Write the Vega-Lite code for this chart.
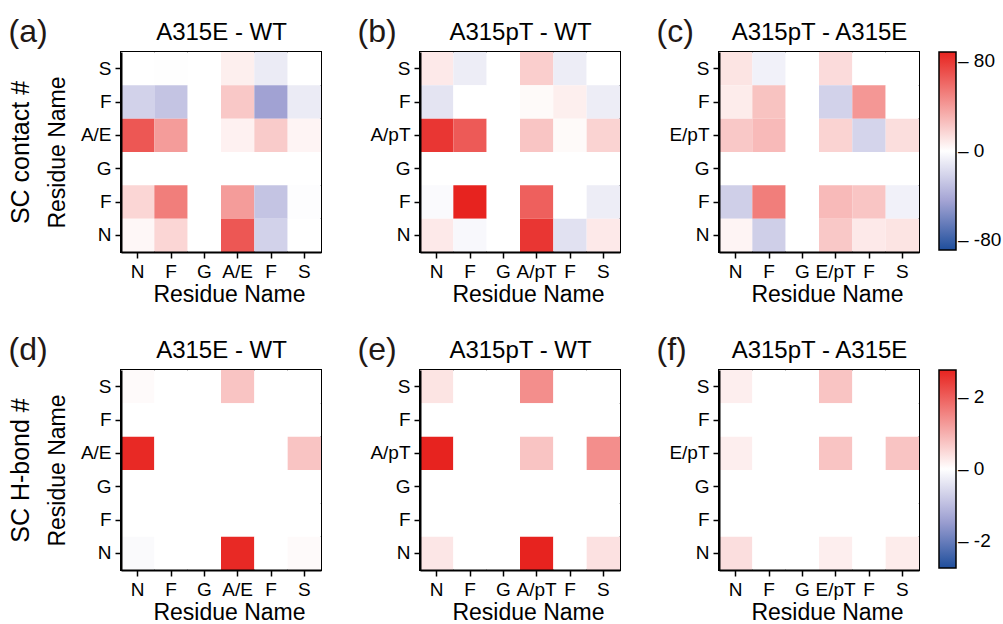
{
"$schema":"https://vega.github.io/schema/vega-lite/v6.json",
"background":"white",
"padding":{"left":7,"top":14,"right":5,"bottom":0},
"config":{
 "font":"Liberation Sans",
 "view":{"stroke":"#000","strokeWidth":2},
 "axis":{"domainColor":"#000","domainWidth":2,"tickColor":"#000","tickWidth":1.5,"tickSize":6,"labelColor":"#000","labelFontSize":19,"labelPadding":4,"titleColor":"#000","titleFontSize":23,"titleFontWeight":"normal","grid":false},
 "legend":{"gradientLength":198,"gradientThickness":17,"gradientStrokeColor":"#000","gradientStrokeWidth":1.5,"labelFontSize":19,"labelColor":"#000","offset":20,"padding":0,"labelBaseline":"middle"}
},
"datasets":{
 "a":[
  {"r":1,"c":1,"v":0},{"r":1,"c":2,"v":-0.5},{"r":1,"c":3,"v":0},{"r":1,"c":4,"v":6},{"r":1,"c":5,"v":-9},{"r":1,"c":6,"v":0},
  {"r":2,"c":1,"v":-20},{"r":2,"c":2,"v":-26},{"r":2,"c":3,"v":0},{"r":2,"c":4,"v":20},{"r":2,"c":5,"v":-41},{"r":2,"c":6,"v":-9},
  {"r":3,"c":1,"v":61},{"r":3,"c":2,"v":36},{"r":3,"c":3,"v":0},{"r":3,"c":4,"v":5},{"r":3,"c":5,"v":19},{"r":3,"c":6,"v":4},
  {"r":4,"c":1,"v":0},{"r":4,"c":2,"v":0},{"r":4,"c":3,"v":0},{"r":4,"c":4,"v":0},{"r":4,"c":5,"v":0},{"r":4,"c":6,"v":0},
  {"r":5,"c":1,"v":15},{"r":5,"c":2,"v":47},{"r":5,"c":3,"v":0},{"r":5,"c":4,"v":36},{"r":5,"c":5,"v":-26},{"r":5,"c":6,"v":-1},
  {"r":6,"c":1,"v":3},{"r":6,"c":2,"v":15},{"r":6,"c":3,"v":0},{"r":6,"c":4,"v":61},{"r":6,"c":5,"v":-20},{"r":6,"c":6,"v":0}
 ],
 "b":[
  {"r":1,"c":1,"v":8},{"r":1,"c":2,"v":-8},{"r":1,"c":3,"v":0},{"r":1,"c":4,"v":18},{"r":1,"c":5,"v":-8},{"r":1,"c":6,"v":0},
  {"r":2,"c":1,"v":-12},{"r":2,"c":2,"v":0},{"r":2,"c":3,"v":0},{"r":2,"c":4,"v":2},{"r":2,"c":5,"v":6},{"r":2,"c":6,"v":-8},
  {"r":3,"c":1,"v":73},{"r":3,"c":2,"v":60},{"r":3,"c":3,"v":0},{"r":3,"c":4,"v":21},{"r":3,"c":5,"v":2},{"r":3,"c":6,"v":16},
  {"r":4,"c":1,"v":0},{"r":4,"c":2,"v":0},{"r":4,"c":3,"v":0},{"r":4,"c":4,"v":0},{"r":4,"c":5,"v":0},{"r":4,"c":6,"v":0},
  {"r":5,"c":1,"v":-2},{"r":5,"c":2,"v":80},{"r":5,"c":3,"v":0},{"r":5,"c":4,"v":58},{"r":5,"c":5,"v":0},{"r":5,"c":6,"v":-8},
  {"r":6,"c":1,"v":8},{"r":6,"c":2,"v":-3},{"r":6,"c":3,"v":0},{"r":6,"c":4,"v":73},{"r":6,"c":5,"v":-13},{"r":6,"c":6,"v":8}
 ],
 "c":[
  {"r":1,"c":1,"v":10},{"r":1,"c":2,"v":-6},{"r":1,"c":3,"v":0},{"r":1,"c":4,"v":13},{"r":1,"c":5,"v":0},{"r":1,"c":6,"v":0},
  {"r":2,"c":1,"v":7},{"r":2,"c":2,"v":22},{"r":2,"c":3,"v":0},{"r":2,"c":4,"v":-20},{"r":2,"c":5,"v":38},{"r":2,"c":6,"v":0},
  {"r":3,"c":1,"v":20},{"r":3,"c":2,"v":25},{"r":3,"c":3,"v":0},{"r":3,"c":4,"v":16},{"r":3,"c":5,"v":-19},{"r":3,"c":6,"v":12},
  {"r":4,"c":1,"v":0},{"r":4,"c":2,"v":0},{"r":4,"c":3,"v":0},{"r":4,"c":4,"v":0},{"r":4,"c":5,"v":0},{"r":4,"c":6,"v":0},
  {"r":5,"c":1,"v":-21},{"r":5,"c":2,"v":47},{"r":5,"c":3,"v":0},{"r":5,"c":4,"v":25},{"r":5,"c":5,"v":21},{"r":5,"c":6,"v":-6},
  {"r":6,"c":1,"v":4},{"r":6,"c":2,"v":-21},{"r":6,"c":3,"v":0},{"r":6,"c":4,"v":20},{"r":6,"c":5,"v":8},{"r":6,"c":6,"v":10}
 ],
 "d":[
  {"r":1,"c":1,"v":0.06},{"r":1,"c":2,"v":0},{"r":1,"c":3,"v":0},{"r":1,"c":4,"v":0.74},{"r":1,"c":5,"v":0},{"r":1,"c":6,"v":0},
  {"r":2,"c":1,"v":0},{"r":2,"c":2,"v":0},{"r":2,"c":3,"v":0},{"r":2,"c":4,"v":0},{"r":2,"c":5,"v":0},{"r":2,"c":6,"v":0},
  {"r":3,"c":1,"v":2.68},{"r":3,"c":2,"v":0},{"r":3,"c":3,"v":0},{"r":3,"c":4,"v":0},{"r":3,"c":5,"v":0},{"r":3,"c":6,"v":0.74},
  {"r":4,"c":1,"v":0},{"r":4,"c":2,"v":0},{"r":4,"c":3,"v":0},{"r":4,"c":4,"v":0},{"r":4,"c":5,"v":0},{"r":4,"c":6,"v":0},
  {"r":5,"c":1,"v":0},{"r":5,"c":2,"v":0},{"r":5,"c":3,"v":0},{"r":5,"c":4,"v":0},{"r":5,"c":5,"v":0},{"r":5,"c":6,"v":0},
  {"r":6,"c":1,"v":-0.08},{"r":6,"c":2,"v":0},{"r":6,"c":3,"v":0},{"r":6,"c":4,"v":2.68},{"r":6,"c":5,"v":0},{"r":6,"c":6,"v":0.06}
 ],
 "e":[
  {"r":1,"c":1,"v":0.34},{"r":1,"c":2,"v":0},{"r":1,"c":3,"v":0},{"r":1,"c":4,"v":1.41},{"r":1,"c":5,"v":0},{"r":1,"c":6,"v":0},
  {"r":2,"c":1,"v":0},{"r":2,"c":2,"v":0},{"r":2,"c":3,"v":0},{"r":2,"c":4,"v":0},{"r":2,"c":5,"v":0},{"r":2,"c":6,"v":0},
  {"r":3,"c":1,"v":2.75},{"r":3,"c":2,"v":0},{"r":3,"c":3,"v":0},{"r":3,"c":4,"v":0.74},{"r":3,"c":5,"v":0},{"r":3,"c":6,"v":1.41},
  {"r":4,"c":1,"v":0},{"r":4,"c":2,"v":0},{"r":4,"c":3,"v":0},{"r":4,"c":4,"v":0},{"r":4,"c":5,"v":0},{"r":4,"c":6,"v":0},
  {"r":5,"c":1,"v":0},{"r":5,"c":2,"v":0},{"r":5,"c":3,"v":0},{"r":5,"c":4,"v":0},{"r":5,"c":5,"v":0},{"r":5,"c":6,"v":0},
  {"r":6,"c":1,"v":0.31},{"r":6,"c":2,"v":0},{"r":6,"c":3,"v":0},{"r":6,"c":4,"v":2.75},{"r":6,"c":5,"v":0},{"r":6,"c":6,"v":0.37}
 ],
 "f":[
  {"r":1,"c":1,"v":0.21},{"r":1,"c":2,"v":0},{"r":1,"c":3,"v":0},{"r":1,"c":4,"v":0.74},{"r":1,"c":5,"v":0},{"r":1,"c":6,"v":0},
  {"r":2,"c":1,"v":0},{"r":2,"c":2,"v":0},{"r":2,"c":3,"v":0},{"r":2,"c":4,"v":0},{"r":2,"c":5,"v":0},{"r":2,"c":6,"v":0},
  {"r":3,"c":1,"v":0.21},{"r":3,"c":2,"v":0},{"r":3,"c":3,"v":0},{"r":3,"c":4,"v":0.74},{"r":3,"c":5,"v":0},{"r":3,"c":6,"v":0.74},
  {"r":4,"c":1,"v":0},{"r":4,"c":2,"v":0},{"r":4,"c":3,"v":0},{"r":4,"c":4,"v":0},{"r":4,"c":5,"v":0},{"r":4,"c":6,"v":0},
  {"r":5,"c":1,"v":0},{"r":5,"c":2,"v":0},{"r":5,"c":3,"v":0},{"r":5,"c":4,"v":0},{"r":5,"c":5,"v":0},{"r":5,"c":6,"v":0},
  {"r":6,"c":1,"v":0.41},{"r":6,"c":2,"v":0},{"r":6,"c":3,"v":0},{"r":6,"c":4,"v":0.21},{"r":6,"c":5,"v":0},{"r":6,"c":6,"v":0.24}
 ]
},
"vconcat":[
 {"hconcat":[
  {"data":{"name":"a"},"width":200,"height":200,
   "layer":[
    {"mark":"rect","encoding":{
     "x":{"field":"c","type":"ordinal","scale":{"domain":[1,2,3,4,5,6]},"axis":{"orient":"bottom","labelExpr":"['N','F','G','A/E','F','S'][datum.value-1]","labelAngle":0,"labelOverlap":false,"title":"Residue Name","titlePadding":2,"titleX":108}},
     "y":{"field":"r","type":"ordinal","scale":{"domain":[1,2,3,4,5,6]},"axis":{"labelExpr":"['S','F','A/E','G','F','N'][datum.value-1]","labelOverlap":false,"title":"Residue Name","titlePadding":11}},
     "color":{"field":"v","type":"quantitative","scale":{"domain":[-80,-40,0,80],"range":["#1f4e9c","#a4a4d4","#ffffff","#e7231f"],"interpolate":"rgb"},"legend":null}}},
    {"mark":{"type":"rect","opacity":0},"encoding":{
     "x":{"field":"c","type":"ordinal","axis":{"orient":"top","labels":false,"ticks":false,"domain":false,"title":"A315E - WT","titleFontSize":24,"titlePadding":8}},
     "y":{"field":"r","type":"ordinal","axis":{"orient":"left","labels":false,"ticks":false,"domain":false,"title":"SC contact #","titleFontSize":25,"titlePadding":88}}}},
    {"mark":{"type":"rect","opacity":0},"encoding":{
     "x":{"field":"c","type":"ordinal","axis":{"orient":"top","labels":false,"ticks":false,"domain":false,"title":"(a)","titleFontSize":32,"titleColor":"#231815","titleX":-113,"titleAlign":"left","titleBaseline":"alphabetic","titlePadding":11}},
     "y":{"field":"r","type":"ordinal","axis":null}}}
   ],
   "resolve":{"axis":{"x":"independent","y":"independent"}}},
  {"data":{"name":"b"},"width":200,"height":200,
   "layer":[
    {"mark":"rect","encoding":{
     "x":{"field":"c","type":"ordinal","scale":{"domain":[1,2,3,4,5,6]},"axis":{"orient":"bottom","labelExpr":"['N','F','G','A/pT','F','S'][datum.value-1]","labelAngle":0,"labelOverlap":false,"title":"Residue Name","titlePadding":2,"titleX":108}},
     "y":{"field":"r","type":"ordinal","scale":{"domain":[1,2,3,4,5,6]},"axis":{"labelExpr":"['S','F','A/pT','G','F','N'][datum.value-1]","labelOverlap":false,"title":null}},
     "color":{"field":"v","type":"quantitative","scale":{"domain":[-80,-40,0,80],"range":["#1f4e9c","#a4a4d4","#ffffff","#e7231f"],"interpolate":"rgb"},"legend":null}}},
    {"mark":{"type":"rect","opacity":0},"encoding":{
     "x":{"field":"c","type":"ordinal","axis":{"orient":"top","labels":false,"ticks":false,"domain":false,"title":"A315pT - WT","titleFontSize":24,"titlePadding":8}},
     "y":{"field":"r","type":"ordinal","axis":null}}},
    {"mark":{"type":"rect","opacity":0},"encoding":{
     "x":{"field":"c","type":"ordinal","axis":{"orient":"top","labels":false,"ticks":false,"domain":false,"title":"(b)","titleFontSize":32,"titleColor":"#231815","titleX":-63,"titleAlign":"left","titleBaseline":"alphabetic","titlePadding":11}},
     "y":{"field":"r","type":"ordinal","axis":null}}}
   ],
   "resolve":{"axis":{"x":"independent","y":"independent"}}},
  {"data":{"name":"c"},"width":200,"height":200,
   "layer":[
    {"mark":"rect","encoding":{
     "x":{"field":"c","type":"ordinal","scale":{"domain":[1,2,3,4,5,6]},"axis":{"orient":"bottom","labelExpr":"['N','F','G','E/pT','F','S'][datum.value-1]","labelAngle":0,"labelOverlap":false,"title":"Residue Name","titlePadding":2,"titleX":108}},
     "y":{"field":"r","type":"ordinal","scale":{"domain":[1,2,3,4,5,6]},"axis":{"labelExpr":"['S','F','E/pT','G','F','N'][datum.value-1]","labelOverlap":false,"title":null}},
     "color":{"field":"v","type":"quantitative","scale":{"domain":[-80,-40,0,80],"range":["#1f4e9c","#a4a4d4","#ffffff","#e7231f"],"interpolate":"rgb"},"legend":{"title":null,"values":[80,0,-80],"labelExpr":"'\u2013\u00a0' + datum.value"}}}},
    {"mark":{"type":"rect","opacity":0},"encoding":{
     "x":{"field":"c","type":"ordinal","axis":{"orient":"top","labels":false,"ticks":false,"domain":false,"title":"A315pT - A315E","titleFontSize":24,"titlePadding":8}},
     "y":{"field":"r","type":"ordinal","axis":null}}},
    {"mark":{"type":"rect","opacity":0},"encoding":{
     "x":{"field":"c","type":"ordinal","axis":{"orient":"top","labels":false,"ticks":false,"domain":false,"title":"(c)","titleFontSize":32,"titleColor":"#231815","titleX":-63,"titleAlign":"left","titleBaseline":"alphabetic","titlePadding":11}},
     "y":{"field":"r","type":"ordinal","axis":null}}}
   ],
   "resolve":{"axis":{"x":"independent","y":"independent"}}}
 ],"spacing":33,"resolve":{"scale":{"color":"independent"}}},
 {"hconcat":[
  {"data":{"name":"d"},"width":200,"height":200,
   "layer":[
    {"mark":"rect","encoding":{
     "x":{"field":"c","type":"ordinal","scale":{"domain":[1,2,3,4,5,6]},"axis":{"orient":"bottom","labelExpr":"['N','F','G','A/E','F','S'][datum.value-1]","labelAngle":0,"labelOverlap":false,"title":"Residue Name","titlePadding":2,"titleX":108}},
     "y":{"field":"r","type":"ordinal","scale":{"domain":[1,2,3,4,5,6]},"axis":{"labelExpr":"['S','F','A/E','G','F','N'][datum.value-1]","labelOverlap":false,"title":"Residue Name","titlePadding":11}},
     "color":{"field":"v","type":"quantitative","scale":{"domain":[-2.75,-1.375,0,2.75],"range":["#1f4e9c","#a4a4d4","#ffffff","#e7231f"],"interpolate":"rgb"},"legend":null}}},
    {"mark":{"type":"rect","opacity":0},"encoding":{
     "x":{"field":"c","type":"ordinal","axis":{"orient":"top","labels":false,"ticks":false,"domain":false,"title":"A315E - WT","titleFontSize":24,"titlePadding":8}},
     "y":{"field":"r","type":"ordinal","axis":{"orient":"left","labels":false,"ticks":false,"domain":false,"title":"SC H-bond #","titleFontSize":25,"titlePadding":88}}}},
    {"mark":{"type":"rect","opacity":0},"encoding":{
     "x":{"field":"c","type":"ordinal","axis":{"orient":"top","labels":false,"ticks":false,"domain":false,"title":"(d)","titleFontSize":32,"titleColor":"#231815","titleX":-113,"titleAlign":"left","titleBaseline":"alphabetic","titlePadding":11}},
     "y":{"field":"r","type":"ordinal","axis":null}}}
   ],
   "resolve":{"axis":{"x":"independent","y":"independent"}}},
  {"data":{"name":"e"},"width":200,"height":200,
   "layer":[
    {"mark":"rect","encoding":{
     "x":{"field":"c","type":"ordinal","scale":{"domain":[1,2,3,4,5,6]},"axis":{"orient":"bottom","labelExpr":"['N','F','G','A/pT','F','S'][datum.value-1]","labelAngle":0,"labelOverlap":false,"title":"Residue Name","titlePadding":2,"titleX":108}},
     "y":{"field":"r","type":"ordinal","scale":{"domain":[1,2,3,4,5,6]},"axis":{"labelExpr":"['S','F','A/pT','G','F','N'][datum.value-1]","labelOverlap":false,"title":null}},
     "color":{"field":"v","type":"quantitative","scale":{"domain":[-2.75,-1.375,0,2.75],"range":["#1f4e9c","#a4a4d4","#ffffff","#e7231f"],"interpolate":"rgb"},"legend":null}}},
    {"mark":{"type":"rect","opacity":0},"encoding":{
     "x":{"field":"c","type":"ordinal","axis":{"orient":"top","labels":false,"ticks":false,"domain":false,"title":"A315pT - WT","titleFontSize":24,"titlePadding":8}},
     "y":{"field":"r","type":"ordinal","axis":null}}},
    {"mark":{"type":"rect","opacity":0},"encoding":{
     "x":{"field":"c","type":"ordinal","axis":{"orient":"top","labels":false,"ticks":false,"domain":false,"title":"(e)","titleFontSize":32,"titleColor":"#231815","titleX":-63,"titleAlign":"left","titleBaseline":"alphabetic","titlePadding":11}},
     "y":{"field":"r","type":"ordinal","axis":null}}}
   ],
   "resolve":{"axis":{"x":"independent","y":"independent"}}},
  {"data":{"name":"f"},"width":200,"height":200,
   "layer":[
    {"mark":"rect","encoding":{
     "x":{"field":"c","type":"ordinal","scale":{"domain":[1,2,3,4,5,6]},"axis":{"orient":"bottom","labelExpr":"['N','F','G','E/pT','F','S'][datum.value-1]","labelAngle":0,"labelOverlap":false,"title":"Residue Name","titlePadding":2,"titleX":108}},
     "y":{"field":"r","type":"ordinal","scale":{"domain":[1,2,3,4,5,6]},"axis":{"labelExpr":"['S','F','E/pT','G','F','N'][datum.value-1]","labelOverlap":false,"title":null}},
     "color":{"field":"v","type":"quantitative","scale":{"domain":[-2.75,-1.375,0,2.75],"range":["#1f4e9c","#a4a4d4","#ffffff","#e7231f"],"interpolate":"rgb"},"legend":{"title":null,"values":[2,0,-2],"labelExpr":"'\u2013\u00a0' + datum.value"}}}},
    {"mark":{"type":"rect","opacity":0},"encoding":{
     "x":{"field":"c","type":"ordinal","axis":{"orient":"top","labels":false,"ticks":false,"domain":false,"title":"A315pT - A315E","titleFontSize":24,"titlePadding":8}},
     "y":{"field":"r","type":"ordinal","axis":null}}},
    {"mark":{"type":"rect","opacity":0},"encoding":{
     "x":{"field":"c","type":"ordinal","axis":{"orient":"top","labels":false,"ticks":false,"domain":false,"title":"(f)","titleFontSize":32,"titleColor":"#231815","titleX":-63,"titleAlign":"left","titleBaseline":"alphabetic","titlePadding":11}},
     "y":{"field":"r","type":"ordinal","axis":null}}}
   ],
   "resolve":{"axis":{"x":"independent","y":"independent"}}}
 ],"spacing":33,"resolve":{"scale":{"color":"independent"}}}
],
"spacing":25,
"resolve":{"scale":{"color":"independent"}}
}
